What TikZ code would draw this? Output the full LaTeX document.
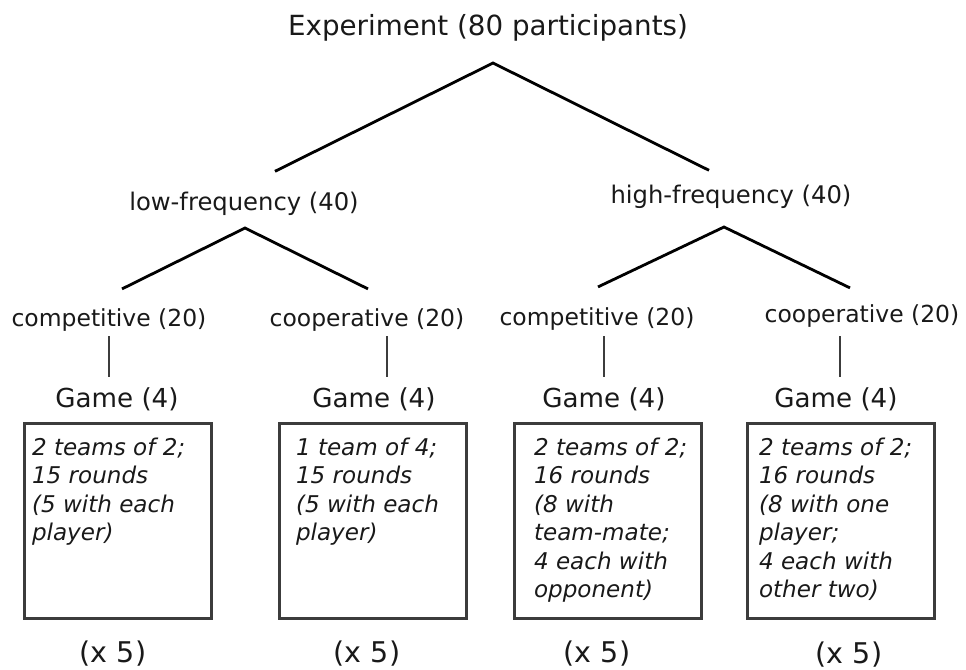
\documentclass[tikz,border=0pt]{standalone}
\usepackage{fontspec}
\setmainfont{DejaVu Sans}
\usetikzlibrary{calc,positioning}
\definecolor{ink}{RGB}{25,25,25}
\definecolor{edge}{RGB}{60,60,60}
\tikzset{
  lbl/.style={inner sep=0pt,text=ink,anchor=base},
  root/.style={lbl,font=\fontsize{20.8}{25}\selectfont},
  freq/.style={lbl,font=\fontsize{18.2}{22}\selectfont},
  cond/.style={lbl,font=\fontsize{17.6}{21}\selectfont},
  game/.style={lbl,font=\fontsize{19.6}{24}\selectfont},
  reps/.style={lbl,font=\fontsize{21.4}{26}\selectfont},
  gbox/.style={draw=edge,line width=1.9pt,inner sep=0pt,minimum width=140.2pt,minimum height=146.2pt},
  rules/.style={inner sep=0pt,anchor=north west,align=left,text=ink,
    font=\fontsize{17.3}{21.4}\selectfont\itshape},
  branch/.style={line width=2.1pt,black},
  stem/.style={line width=2.1pt,edge},
}

\begin{document}
\begin{tikzpicture}[x=0.75pt,y=-0.75pt]
  \useasboundingbox (0,0) rectangle (966,669);
  % levels
  \node[root] (exp) at (488,35) {Experiment (80 participants)};
  \node[freq] (low) at (244,210) {low-frequency (40)};
  \node[freq] (high) at (731,203) {high-frequency (40)};
  \node[cond] (lcomp) at (109,326) {competitive (20)};
  \node[cond] (lcoop) at (367,326) {cooperative (20)};
  \node[cond] (hcomp) at (597,325) {competitive (20)};
  \node[cond] (hcoop) at (862,322) {cooperative (20)};
  % games
  \node[game] (g1) at (117,407) {Game (4)};
  \node[game] (g2) at (374,407) {Game (4)};
  \node[game] (g3) at (604,407) {Game (4)};
  \node[game] (g4) at (836,407) {Game (4)};
  \node[gbox] (box1) at (118,521) {};
  \node[gbox] (box2) at (373,521) {};
  \node[gbox] (box3) at (608,521) {};
  \node[gbox] (box4) at (841,521) {};
  \node[rules] (r1) at ($(box1.north west)+(8.5,15)$) {2 teams of 2;\\15 rounds\\(5 with each\\player)};
  \node[rules] (r2) at ($(box2.north west)+(17.5,15)$) {1 team of 4;\\15 rounds\\(5 with each\\player)};
  \node[rules] (r3) at ($(box3.north west)+(20.5,15)$) {2 teams of 2;\\16 rounds\\(8 with\\team-mate;\\4 each with\\opponent)};
  \node[rules] (r4) at ($(box4.north west)+(12.5,15)$) {2 teams of 2;\\16 rounds\\(8 with one\\player;\\4 each with\\other two)};
  \node[reps] (x1) at (113,662) {(x 5)};
  \node[reps] (x2) at (367,662) {(x 5)};
  \node[reps] (x3) at (597,662) {(x 5)};
  \node[reps] (x4) at (849,663) {(x 5)};

  % tree
  \coordinate (expfork) at ($(exp.base)+(5,28)$);
  \coordinate (lowfork) at ($(low.base)+(1,18)$);
  \coordinate (highfork) at ($(high.base)+(-7,24)$);
  \draw[branch] ($(low.north)+(31,-20)$) -- (expfork) -- ($(high.north)+(-22,-14)$);
  \draw[branch] ($(lcomp.north)+(13,-19)$) -- (lowfork) -- ($(lcoop.north)+(1,-19)$);
  \draw[branch] ($(hcomp.north)+(1,-20)$) -- (highfork) -- ($(hcoop.north)+(-12,-16)$);
  \draw[stem] ($(lcomp.base)+(0,10)$) -- ($(g1.north)+(-8,-10)$);
  \draw[stem] ($(lcoop.base)+(20,10)$) -- ($(g2.north)+(13,-10)$);
  \draw[stem] ($(hcomp.base)+(7,11)$) -- ($(g3.north)+(0,-10)$);
  \draw[stem] ($(hcoop.base)+(-22,14)$) -- ($(g4.north)+(4,-10)$);
\end{tikzpicture}
\end{document}
